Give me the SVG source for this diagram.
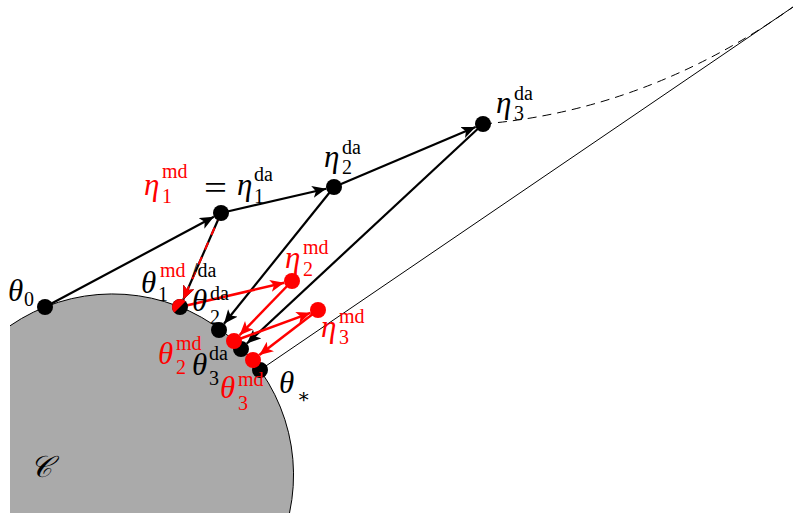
<svg xmlns="http://www.w3.org/2000/svg" width="793" height="513" viewBox="0 0 793 513">
<style>
text{font-family:"Liberation Serif","DejaVu Serif",serif}
.m{font-size:31px;font-style:italic}
.s{font-size:20px}
.k{fill:#000}
.r{fill:#f00}
.ab{stroke:#000;stroke-width:2.2;fill:none}
.ar{stroke:#f00;stroke-width:2.5;fill:none}
.dk{fill:#000}
.dr{fill:#f00}
</style>
<defs>
<marker id="hb" markerUnits="userSpaceOnUse" markerWidth="16" markerHeight="14" refX="14" refY="6" orient="auto"><path d="M0,0 L14,6 L0,12 L3.5,6 Z" fill="#000"/></marker>
<marker id="hr" markerUnits="userSpaceOnUse" markerWidth="16" markerHeight="14" refX="14" refY="6" orient="auto"><path d="M0,0 L14,6 L0,12 L3.5,6 Z" fill="#f00"/></marker>
</defs>
<g id="set-C">
<path d="M10,513 L10,325.8 A181,181 0 0 1 289.5,513 Z" fill="#aaa"/>
<path d="M10,325.8 A181,181 0 0 1 289.5,513" fill="none" stroke="#000" stroke-width="1"/>
<text x="30" y="477" style="font-family:'DejaVu Serif',serif;font-size:30px;font-style:italic">𝒞</text>
</g>
<g id="connectors">
<path d="M260,370 L793,7" stroke="#000" stroke-width="1" fill="none"/>
<path d="M483,124 Q648,110 793,7" stroke="#000" stroke-width="1" fill="none" stroke-dasharray="9,6"/>
<path class="ab" d="M45,307 L213.9,216.8" marker-end="url(#hb)"/>
<path class="ab" d="M221,213 L326.2,188.8" marker-end="url(#hb)"/>
<path class="ab" d="M334,187 L475.6,127.1" marker-end="url(#hb)"/>
<path class="ab" d="M334,187 L224,323.8" marker-end="url(#hb)"/>
<path class="ab" d="M483,124 L246.9,343.5" marker-end="url(#hb)"/>
<path class="ab" d="M221,213 L183.2,299.7" marker-end="url(#hb)"/>
<path d="M221,213 L183.2,299.7" stroke="#f00" stroke-width="2" fill="none" stroke-dasharray="8,8" marker-end="url(#hr)"/>
<path class="ar" d="M180,307 L284.2,282.8" marker-end="url(#hr)"/>
<path class="ar" d="M292,281 L239.6,335.2" marker-end="url(#hr)"/>
<path class="ar" d="M234,341 L310.5,312.8" marker-end="url(#hr)"/>
<path class="ar" d="M318,310 L259.3,355.1" marker-end="url(#hr)"/>
</g>
<g id="theta0"><circle class="dk" cx="45" cy="307" r="8"/><text class="m k" x="8" y="301">θ</text><text class="s k" x="24" y="306">0</text></g>
<g id="eta1"><circle class="dk" cx="221" cy="213" r="8"/>
<text class="m r" x="144" y="195">η</text><text class="s r" x="162" y="178">md</text><text class="s r" x="162" y="203">1</text>
<text class="k" x="204" y="199" textLength="23" lengthAdjust="spacingAndGlyphs" style="font-size:34px">=</text>
<text class="m k" x="237" y="195">η</text><text class="s k" x="254" y="181">da</text><text class="s k" x="254" y="203">1</text></g>
<g id="eta2da"><circle class="dk" cx="334" cy="187" r="8"/><text class="m k" x="324" y="167">η</text><text class="s k" x="342" y="154">da</text><text class="s k" x="342" y="174">2</text></g>
<g id="eta3da"><circle class="dk" cx="483" cy="124" r="8"/><text class="m k" x="496" y="113">η</text><text class="s k" x="514" y="100">da</text><text class="s k" x="514" y="120">3</text></g>
<g id="theta2da"><circle class="dk" cx="219" cy="330" r="8"/><text class="m k" x="192" y="311">θ</text><text class="s k" x="210" y="300">da</text><text class="s k" x="210" y="324">2</text></g>
<g id="theta3da"><circle class="dk" cx="241" cy="349" r="8"/><text class="m k" x="192" y="375">θ</text><text class="s k" x="209" y="360">da</text><text class="s k" x="209" y="385">3</text></g>
<g id="theta-star"><circle class="dk" cx="260" cy="370" r="8"/><text class="m k" x="279" y="393">θ</text><text class="s k" x="297" y="403">∗</text></g>
<g id="theta1"><circle class="dk" cx="180" cy="307" r="8"/><path class="dr" d="M185.7,301.3 A8,8 0 0 0 174.3,312.7 Z"/>
<text class="m k" x="141" y="293">θ</text><text class="s r" x="160" y="277">md</text><text class="s k" x="192" y="277">/da</text><text class="s k" x="158" y="301">1</text></g>
<g id="eta2md"><circle class="dr" cx="292" cy="281" r="8"/><text class="m r" x="285" y="268">η</text><text class="s r" x="303" y="254">md</text><text class="s r" x="303" y="276">2</text></g>
<g id="eta3md"><circle class="dr" cx="318" cy="310" r="8"/><text class="m r" x="321" y="337">η</text><text class="s r" x="339" y="323">md</text><text class="s r" x="339" y="344">3</text></g>
<g id="theta2md"><circle class="dr" cx="234" cy="341" r="8"/><text class="m r" x="158" y="364">θ</text><text class="s r" x="176" y="350">md</text><text class="s r" x="176" y="374">2</text></g>
<g id="theta3md"><circle class="dr" cx="253" cy="360" r="8"/><text class="m r" x="220" y="398">θ</text><text class="s r" x="238" y="386">md</text><text class="s r" x="238" y="410">3</text></g>
</svg>
